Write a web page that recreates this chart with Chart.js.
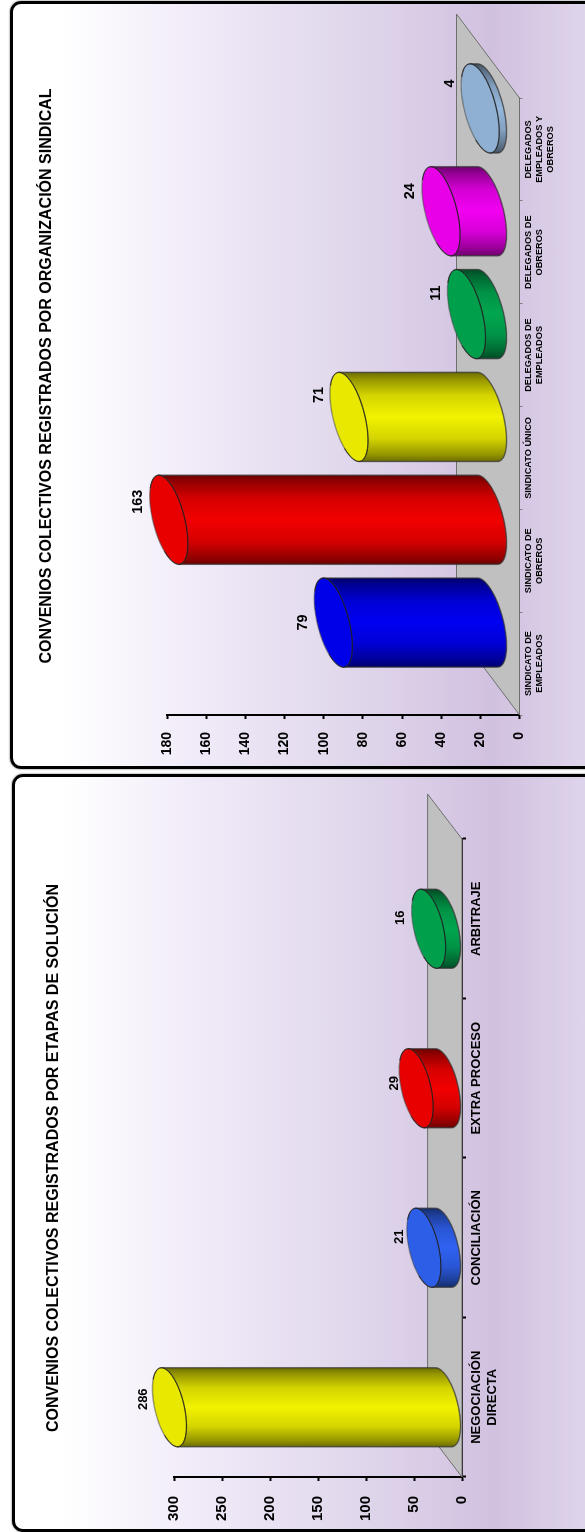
<!DOCTYPE html>
<html><head><meta charset="utf-8">
<style>
html,body{margin:0;padding:0;width:585px;height:1532px;overflow:hidden;background:#fff;position:relative}
.panel{position:absolute;box-sizing:border-box;border:3px solid #000;border-radius:11px;
 box-shadow:0 0 2px #555;background:linear-gradient(to right,#fff 8%,#f0eaf8 32%,#ded4ea 62%,#d1c1e0 82%,#e0d7ec 100%)}
#p1{left:10px;top:1px;width:590px;height:768px}
#p2{left:12px;top:774px;width:590px;height:758px}
canvas{position:absolute;left:0;transform-origin:0 0;transform:rotate(-90deg)}
</style></head><body>
<div class="panel" id="p1"></div>
<div class="panel" id="p2"></div>
<canvas id="c1" width="770" height="585" style="top:770px;left:0"></canvas>
<canvas id="c2" width="748" height="585" style="top:1532px;left:0"></canvas>
<script src="https://cdn.jsdelivr.net/npm/chart.js@4"></script>
<script>
const orgTitle = "CONVENIOS COLECTIVOS REGISTRADOS POR ORGANIZACIÓN SINDICAL";
const orgCategories = [["SINDICATO DE","EMPLEADOS"],["SINDICATO DE","OBREROS"],"SINDICATO ÚNICO",["DELEGADOS DE","EMPLEADOS"],["DELEGADOS DE","OBREROS"],["DELEGADOS","EMPLEADOS Y","OBREROS"]];
const orgValues = [79,163,71,11,24,4];
const orgColors = ["#0000f2","#f20000","#f2f200","#00a64f","#f200f2","#95b7db"];

const stageTitle = "CONVENIOS COLECTIVOS REGISTRADOS POR ETAPAS DE SOLUCIÓN";
const stageCategories = [["NEGOCIACIÓN","DIRECTA"],"CONCILIACIÓN","EXTRA PROCESO","ARBITRAJE"];
const stageValues = [286,21,29,16];
const stageColors = ["#f2f200","#2f62f2","#f20000","#00a64f"];

const FONT = '"Liberation Sans", Arial, sans-serif';

function shade(hex,f){
  const n=parseInt(hex.slice(1),16);
  const c=[(n>>16)&255,(n>>8)&255,n&255].map(v=>Math.round(v*f));
  return `rgb(${c[0]},${c[1]},${c[2]})`;
}

function cylinderPlugin(s){
  const ell=(cx,cy,A,t)=>[cx+A*Math.cos(t),cy+s.shear*Math.cos(t)+s.minor*Math.sin(t)];
  return {
    id:'cyl',
    beforeDatasetsDraw(chart){
      const {ctx,chartArea:a}=chart;
      ctx.save();
      ctx.fillStyle='#000';ctx.font=`bold ${s.titleSize}px ${FONT}`;
      ctx.textAlign='center';ctx.textBaseline='middle';
      ctx.fillText(s.title,s.titleX,s.titleY);
      ctx.beginPath();
      ctx.moveTo(a.left,a.bottom);
      ctx.lineTo(a.left+s.floorU,a.bottom-s.floorV);
      ctx.lineTo(a.right+s.floorU,a.bottom-s.floorV);
      ctx.lineTo(a.right,a.bottom);
      ctx.closePath();
      ctx.fillStyle='#c0c0c0';ctx.fill();
      ctx.strokeStyle='#6e6e6e';ctx.lineWidth=1;ctx.stroke();
      ctx.restore();
    },
    afterDatasetsDraw(chart){
      const {ctx}=chart;
      const meta=chart.getDatasetMeta(0);
      meta.data.forEach((el,i)=>{
        const A=el.width/2, cx=el.x+s.barU, top=el.y+s.barV, base=el.base+s.barV;
        const col=s.colors[i];
        ctx.save();
        // body
        ctx.beginPath();
        ctx.moveTo(...ell(cx,top,A,0));
        for(let k=0;k<=60;k++) ctx.lineTo(...ell(cx,base,A,Math.PI*k/60));
        ctx.lineTo(...ell(cx,top,A,Math.PI));
        ctx.closePath();
        const g=ctx.createLinearGradient(cx-A,0,cx+A,0);
        g.addColorStop(0,shade(col,.45));g.addColorStop(.08,shade(col,.62));g.addColorStop(.26,shade(col,.88));
        g.addColorStop(.5,shade(col,1));g.addColorStop(.74,shade(col,.88));g.addColorStop(.92,shade(col,.62));g.addColorStop(1,shade(col,.45));
        ctx.fillStyle=g;ctx.fill();
        ctx.strokeStyle='rgba(70,70,70,.55)';ctx.lineWidth=1.6;ctx.stroke();
        ctx.strokeStyle='rgba(20,20,20,.6)';ctx.lineWidth=.6;ctx.stroke();
        // cap
        ctx.beginPath();
        for(let k=0;k<=90;k++){const p=ell(cx,top,A,2*Math.PI*k/90);k?ctx.lineTo(...p):ctx.moveTo(...p);}
        ctx.closePath();
        ctx.fillStyle=shade(col,.96);ctx.fill();
        ctx.strokeStyle='rgba(70,70,70,.5)';ctx.lineWidth=1.4;ctx.stroke();
        ctx.strokeStyle='#111';ctx.lineWidth=.8;
        ctx.beginPath();
        for(let k=-15;k<=75;k++){const p=ell(cx,top,A,Math.PI*k/60);k>-15?ctx.lineTo(...p):ctx.moveTo(...p);}
        ctx.stroke();
        // value label
        ctx.fillStyle='#000';ctx.font=`bold ${s.labelSize}px ${FONT}`;
        ctx.textAlign='center';ctx.textBaseline='middle';
        ctx.fillText(String(chart.data.datasets[0].data[i]),cx+s.labelU[i],top+s.labelV[i]);
        ctx.restore();
      });
    }
  };
}

function build(id,cfg){
  new Chart(document.getElementById(id),{
    type:'bar',
    data:{labels:cfg.categories,datasets:[{data:cfg.values,backgroundColor:'rgba(0,0,0,0)',borderWidth:0,barPercentage:cfg.barFraction,categoryPercentage:1}]},
    options:{
      responsive:false,animation:false,devicePixelRatio:1,
      layout:{padding:{left:0,right:cfg.padRight,top:cfg.padTop,bottom:0}},
      plugins:{legend:{display:false},tooltip:{enabled:false},title:{display:false}},
      scales:{
        x:{
          afterFit(sc){sc.height=cfg.xHeight;},
          grid:{drawOnChartArea:false,drawTicks:true,tickLength:cfg.xTick,tickColor:cfg.xColor,tickWidth:cfg.xTickW,offset:true},
          border:{display:true,color:cfg.xColor,width:cfg.xLine},
          ticks:{color:'#000',font:{family:FONT,size:cfg.catSize,weight:'bold',lineHeight:cfg.catLine},maxRotation:0,minRotation:0,autoSkip:false,padding:cfg.catPad}
        },
        y:{
          afterFit(sc){sc.width=cfg.yWidth;},
          min:0,max:cfg.max,
          grid:{drawOnChartArea:false,drawTicks:true,tickLength:4,tickColor:'#000',tickWidth:2},
          border:{display:true,color:'#000',width:2},
          ticks:{stepSize:cfg.step,color:'#000',font:{family:FONT,size:cfg.valSize,weight:'bold'},padding:cfg.valPad}
        }
      }
    },
    plugins:[cylinderPlugin(cfg.draw)]
  });
}

build('c1',{
  categories:orgCategories,values:orgValues,barFraction:.866,max:180,step:20,
  padRight:98,padTop:167,
  xHeight:65.5,xTick:3,xColor:'#808080',xTickW:1,xLine:1,catSize:9.2,catLine:1.16,catPad:1,
  yWidth:55,valSize:14,valPad:13,
  draw:{title:orgTitle,titleSize:16,titleX:394,titleY:47,colors:orgColors,floorU:84,floorV:63,barU:41,barV:-31.5,shear:-10,minor:16.2,labelSize:14.4,
    labelU:[0,18,22,21,20,25],labelV:[-30,-31,-30,-30,-31,-30]}
});
build('c2',{
  categories:stageCategories,values:stageValues,barFraction:.495,max:300,step:50,
  padRight:55,padTop:174,
  xHeight:123,xTick:4,xColor:'#000',xTickW:2,xLine:2,catSize:13,catLine:1.18,catPad:3,
  yWidth:55,valSize:15,valPad:15,
  draw:{title:stageTitle,titleSize:16,titleX:374,titleY:53.5,colors:stageColors,floorU:45,floorV:34.4,barU:-10,barV:-18,shear:-8,minor:15,labelSize:13,
    labelU:[8,11,5,11],labelV:[-26,-24,-22,-28]}
});
</script>
</body></html>
